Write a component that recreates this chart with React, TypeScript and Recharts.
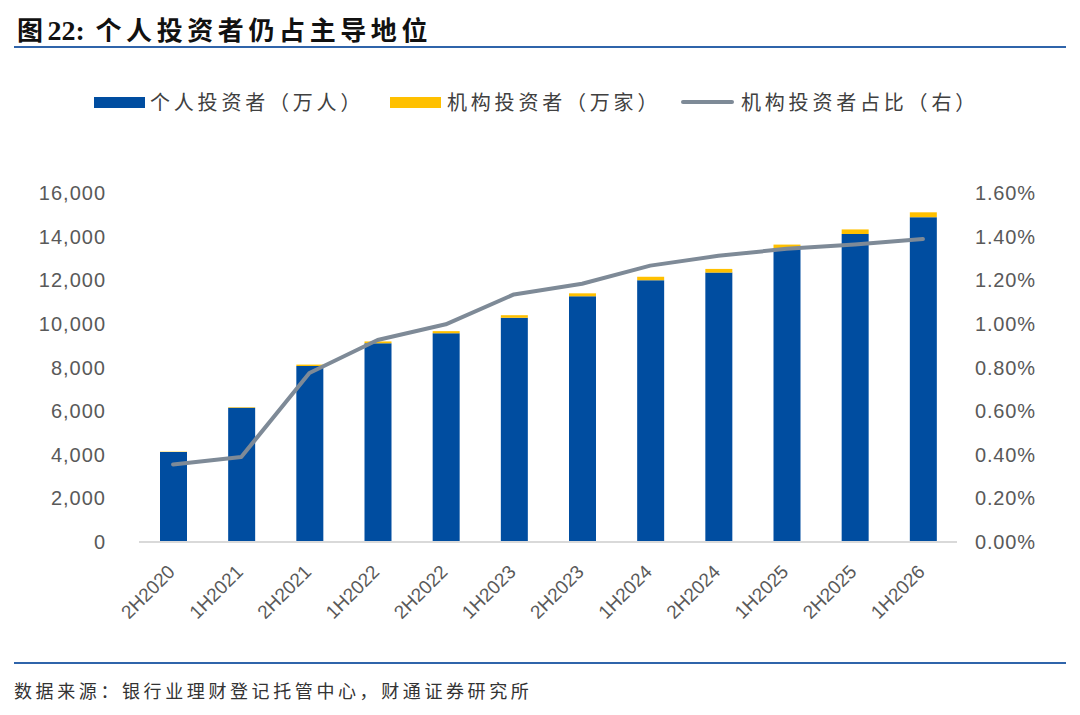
import React from 'react';
import { ComposedChart, Bar, Line, XAxis, YAxis, Legend } from 'recharts';

const categories = ['2H2020', '1H2021', '2H2021', '1H2022', '2H2022', '1H2023', '2H2023', '1H2024', '2H2024', '1H2025', '2H2025', '1H2026'];
const individual = [4130, 6150, 8070, 9110, 9570, 10280, 11265, 12000, 12350, 13450, 14120, 14890];
const institution = [15, 25, 63, 85, 97, 118, 136, 160, 170, 185, 210, 225];
const ratio = [0.355, 0.39, 0.775, 0.926, 0.998, 1.135, 1.184, 1.267, 1.312, 1.344, 1.364, 1.389];
const leftTicks = [0, 2000, 4000, 6000, 8000, 10000, 12000, 14000, 16000];
const rightTicks = [0, 0.2, 0.4, 0.6, 0.8, 1.0, 1.2, 1.4, 1.6];
const seriesNames = ['个人投资者（万人）', '机构投资者（万家）', '机构投资者占比（右）'];

const data = categories.map((c, i) => ({
  name: c,
  individual: individual[i],
  institution: institution[i],
  ratio: ratio[i],
}));

const BLUE = '#004DA0';
const YELLOW = '#FFC000';
const GRAY = '#7E8A97';
const CJK = '"Noto Sans CJK SC", "Noto Sans", sans-serif';
const LATIN = '"Liberation Sans", Arial, sans-serif';

const XTick = (props: any) => {
  const { x, y, payload } = props;
  return (
    <g transform={`translate(${x + 3},${y + 29})`}>
      <text x={0} y={0} textAnchor="end" transform="rotate(-45)" fill="#595959" fontSize={19} fontFamily={LATIN}>
        {payload.value}
      </text>
    </g>
  );
};

const LegendContent = () => {
  const textStyle: React.CSSProperties = {
    position: 'absolute',
    top: 0,
    fontSize: 20,
    lineHeight: '28px',
    letterSpacing: 3.8,
    color: '#404040',
    fontFamily: CJK,
    whiteSpace: 'nowrap',
  };
  return (
    <div style={{ position: 'relative', width: 1080, height: 28 }}>
      <div style={{ position: 'absolute', left: 94, top: 9, width: 51, height: 11, background: BLUE }} />
      <div style={{ ...textStyle, left: 150 }}>{seriesNames[0]}</div>
      <div style={{ position: 'absolute', left: 390, top: 9, width: 51, height: 11, background: YELLOW }} />
      <div style={{ ...textStyle, left: 447 }}>{seriesNames[1]}</div>
      <div style={{ position: 'absolute', left: 681, top: 12, width: 53, height: 4, borderRadius: 2, background: GRAY }} />
      <div style={{ ...textStyle, left: 741 }}>{seriesNames[2]}</div>
    </div>
  );
};

export default function App() {
  return (
    <div style={{ position: 'absolute', left: 0, top: 0, width: 1080, height: 715, background: '#fff', overflow: 'hidden' }}>
      <div style={{ position: 'absolute', left: 17, top: 12, fontSize: 26, lineHeight: '34px', letterSpacing: 4.6, color: '#111', fontFamily: CJK, fontWeight: 700, whiteSpace: 'nowrap' }}>
        图<span style={{ fontFamily: '"Liberation Serif", serif', letterSpacing: 0, fontSize: 28 }}>22:</span> 个人投资者仍占主导地位
      </div>
      <div style={{ position: 'absolute', left: 14, top: 46, width: 1052, height: 2, background: '#2F64AA' }} />

      <ComposedChart
        width={1080}
        height={715}
        data={data}
        margin={{ top: 193, right: 0, bottom: 93, left: 0 }}
        style={{ position: 'absolute', left: 0, top: 0 }}
      >
        <XAxis
          dataKey="name"
          height={80}
          tickLine={false}
          tickSize={0}
          interval={0}
          axisLine={{ stroke: '#D9D9D9', strokeWidth: 2 }}
          tick={<XTick />}
        />
        <YAxis
          yAxisId="left"
          orientation="left"
          width={139}
          domain={[0, 16000]}
          ticks={leftTicks}
          axisLine={false}
          tickLine={false}
          tickSize={0}
          tickMargin={33}
          tick={{ fill: '#595959', fontSize: 20, fontFamily: LATIN, letterSpacing: 1 }}
          tickFormatter={(v: number) => v.toLocaleString('en-US')}
        />
        <YAxis
          yAxisId="right"
          orientation="right"
          width={123}
          domain={[0, 1.6]}
          ticks={rightTicks}
          axisLine={false}
          tickLine={false}
          tickSize={0}
          tickMargin={18}
          tick={{ fill: '#595959', fontSize: 20, fontFamily: LATIN, letterSpacing: 0.8 }}
          tickFormatter={(v: number) => v.toFixed(2) + '%'}
        />
        <Legend
          layout="vertical"
          verticalAlign="middle"
          align="center"
          wrapperStyle={{ left: 0, top: 88, width: 1080, height: 28 }}
          content={<LegendContent />}
        />
        <Bar dataKey="individual" name={seriesNames[0]} stackId="a" yAxisId="left" fill={BLUE} barSize={27} isAnimationActive={false} />
        <Bar dataKey="institution" name={seriesNames[1]} stackId="a" yAxisId="left" fill={YELLOW} barSize={27} isAnimationActive={false} />
        <Line dataKey="ratio" name={seriesNames[2]} yAxisId="right" type="linear" stroke={GRAY} strokeWidth={4} dot={false} strokeLinejoin="round" strokeLinecap="round" isAnimationActive={false} />
      </ComposedChart>

      <div style={{ position: 'absolute', left: 14, top: 662, width: 1052, height: 2, background: '#2F64AA' }} />
      <div style={{ position: 'absolute', left: 14, top: 677, fontSize: 18, lineHeight: '26px', letterSpacing: 3.6, color: '#333', fontFamily: CJK, whiteSpace: 'nowrap' }}>
        数据来源：银行业理财登记托管中心，财通证券研究所
      </div>
    </div>
  );
}
